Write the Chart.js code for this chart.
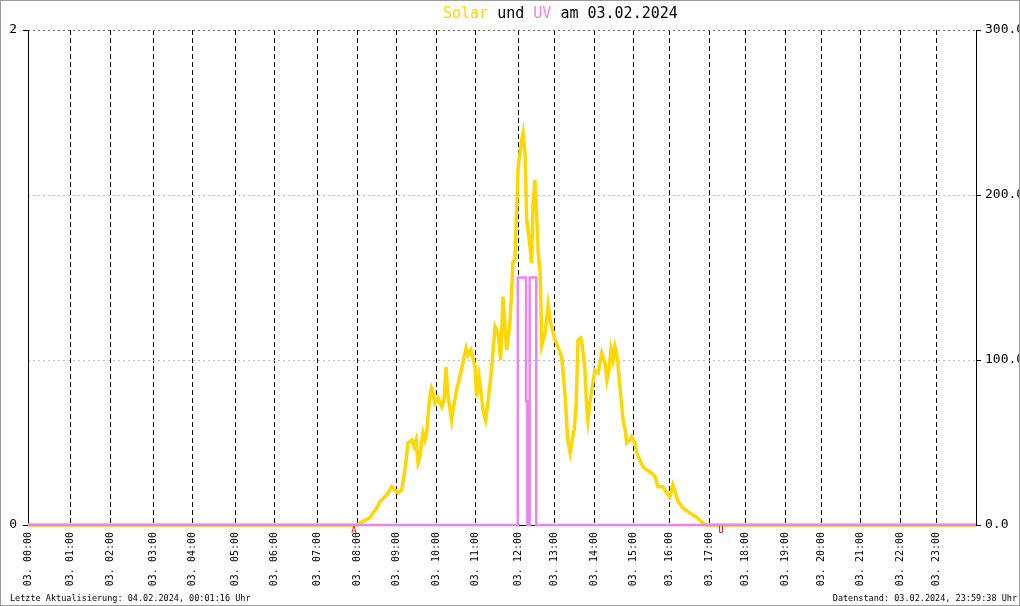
<!DOCTYPE html>
<html>
<head>
<meta charset="utf-8">
<script src="https://cdn.jsdelivr.net/npm/chart.js@4.4.1/dist/chart.umd.min.js"></script>
<style>
    html, body { margin: 0; padding: 0; background: #fff; }
    #wrap { position: relative; width: 1020px; height: 606px; overflow: hidden; font-family: 'DejaVu Sans Mono', monospace; color: #000; }
    #wrap canvas { position: absolute; left: 0; top: 0; }
    #frame { position: absolute; left: 0; top: 0; width: 1020px; height: 606px; box-sizing: border-box; border: 1px solid #9a9a9a; pointer-events: none; }
    #title { position: absolute; top: 4px; left: 443px; font-size: 15px; line-height: 18px; white-space: nowrap; }
    .foot { position: absolute; top: 593px; font-size: 8.5px; line-height: 11px; white-space: nowrap; }
</style>
</head>
<body>
<div id="wrap">
    <canvas id="chart" width="1020" height="606"></canvas>
    <div id="title"><span style="color:#ffd700">Solar</span> und <span style="color:#ee82ee">UV</span> am 03.02.2024</div>
    <div class="foot" style="left:10px">Letzte Aktualisierung: 04.02.2024, 00:01:16 Uhr</div>
    <div class="foot" style="right:3px">Datenstand: 03.02.2024, 23:59:38 Uhr</div>
    <div id="frame"></div>
</div>
<script>
// x runs over the sample index of the day (0..288); the hour labels sit on
// the sample where each hour starts, so they are not evenly spaced.
const dayEnd = 288;
const hourTicks = [0, 13, 25, 38, 50, 63, 75, 88, 100, 112, 124, 136, 149, 160, 172, 184, 195, 207, 218, 230, 241, 253, 265, 276];
const hourLabels = [
    '03. 00:00', '03. 01:00', '03. 02:00', '03. 03:00', '03. 04:00', '03. 05:00',
    '03. 06:00', '03. 07:00', '03. 08:00', '03. 09:00', '03. 10:00', '03. 11:00',
    '03. 12:00', '03. 13:00', '03. 14:00', '03. 15:00', '03. 16:00', '03. 17:00',
    '03. 18:00', '03. 19:00', '03. 20:00', '03. 21:00', '03. 22:00', '03. 23:00',
];
const uvTicks = [0, 2];
const solarTicks = [0, 100, 200, 300];

// [sample, W/m²]
const solar = [
    [0, 0], [100, 0], [100.9, 1.2], [102.4, 3.0], [103.9, 4.4], [104.8, 7.3], [105.9, 10.3],
    [106.9, 14.1], [108.5, 17.2], [109.4, 19.4], [110.5, 23.2], [111.5, 21.2], [112.4, 19.4],
    [113.5, 21.2], [113.9, 25.5], [114.5, 33.3], [115.0, 41.4], [115.4, 49.7], [116.6, 51.5],
    [117.3, 47.5], [117.9, 51.5], [118.5, 37.6], [119.1, 41.4], [119.6, 50.5], [120.0, 55.8],
    [120.6, 51.5], [121.2, 57.6], [121.5, 65.6], [122.1, 77.8], [122.6, 83.0], [123.0, 80.8],
    [123.6, 73.9], [124.6, 77.0], [125.7, 71.7], [126.4, 75.8], [127.0, 95.9], [127.6, 77.8],
    [128.7, 63.6], [129.1, 69.7], [130.2, 81.8], [131.2, 89.9], [132.2, 99.0], [133.1, 107.3],
    [133.7, 103.0], [134.5, 106.1], [135.2, 101.2], [135.8, 95.9], [136.3, 77.8], [137.0, 89.9],
    [137.8, 77.8], [138.2, 69.7], [139.0, 63.6], [139.7, 73.9], [140.9, 95.9], [141.9, 120.2],
    [142.8, 116.4], [143.6, 100.0], [144.3, 138.4], [145.4, 106.1], [146.4, 122.4], [146.9, 140.6],
    [147.3, 159.4], [147.9, 160.6], [148.9, 217.2], [150.0, 233.3], [150.4, 237.6], [151.0, 225.5],
    [151.5, 184.9], [151.9, 178.8], [152.5, 168.7], [153.0, 158.8], [153.4, 192.9], [154.0, 209.1],
    [154.5, 189.1], [155.0, 164.8], [155.6, 152.7], [156.1, 109.1], [157.1, 116.4], [158.0, 133.3],
    [158.6, 124.2], [160.1, 112.1], [161.0, 108.1], [162.1, 102.0], [162.5, 93.9], [163.1, 80.0],
    [163.6, 63.6], [164.0, 51.5], [164.7, 43.6], [165.2, 49.7], [165.9, 57.6], [166.5, 71.7],
    [167.1, 112.1], [167.9, 113.3], [168.3, 110.3], [169.2, 93.9], [169.7, 71.7], [170.1, 63.6],
    [170.7, 73.9], [171.6, 86.1], [172.2, 93.9], [173.2, 92.1], [174.3, 104.2], [175.3, 98.2],
    [175.9, 87.9], [176.5, 93.9], [177.1, 106.1], [177.7, 100.0], [178.3, 108.1], [178.8, 104.2],
    [179.2, 98.2], [179.8, 83.8], [180.4, 71.7], [180.8, 63.6], [181.4, 57.6], [181.9, 49.7],
    [182.9, 51.5], [183.4, 53.5], [184.4, 49.7], [184.9, 43.6], [185.9, 39.4], [186.8, 35.3],
    [188.0, 33.3], [189.5, 31.5], [190.5, 29.3], [191.4, 23.2], [192.9, 23.2], [194.0, 19.4],
    [195.0, 17.2], [195.9, 24.2], [196.6, 20.2], [197.5, 14.1], [199.0, 10.3], [200.5, 8.1],
    [202.0, 6.1], [203.5, 4.2], [205.0, 1.2], [206.2, 0], [288, 0],
];

// [sample, UV index]
const uv = [
    [0, 0], [148.8, 0], [148.8, 1], [151.3, 1], [151.3, 0.5], [151.7, 0.5], [151.7, 0],
    [152.4, 0], [152.4, 1], [154.4, 1], [154.4, 0], [288, 0],
];

// sunrise (Aufgang) and sunset (Untergang)
const sunMarks = [['A', 99], ['U', 210.5]];

const monoFont = "'DejaVu Sans Mono', monospace";

const sunMarkers = {
    id: 'sunMarkers',
    afterDraw(chart) {
        const { ctx, chartArea, scales: { x } } = chart;
        ctx.save();
        ctx.fillStyle = '#e00000';
        ctx.font = `9px ${monoFont}`;
        ctx.textAlign = 'center';
        ctx.textBaseline = 'middle';
        sunMarks.forEach(([mark, at]) => ctx.fillText(mark, x.getPixelForValue(at), chartArea.bottom + 6));
        ctx.restore();
    },
};

new Chart(document.getElementById('chart'), {
    type: 'line',
    data: {
        datasets: [
            // first dataset is painted last, so the UV line sits on top;
            // clip is widened so the zero line isn't cut in half at the axis
            { label: 'UV', data: uv, yAxisID: 'yUV', borderColor: '#ee82ee', borderWidth: 2.5, pointRadius: 0, tension: 0, clip: 4 },
            { label: 'Solar', data: solar, yAxisID: 'ySolar', borderColor: '#ffd700', borderWidth: 3.5, pointRadius: 0, tension: 0, clip: 4 },
        ],
    },
    options: {
        responsive: false,
        animation: false,
        events: [],
        layout: { padding: { top: 30, left: 0, right: 0, bottom: 0 } },
        plugins: { legend: { display: false }, tooltip: { enabled: false } },
        scales: {
            x: {
                type: 'linear',
                min: 0,
                max: dayEnd,
                afterBuildTicks: (scale) => { scale.ticks = hourTicks.map((value) => ({ value })); },
                afterFit: (scale) => { scale.height = 81; },
                ticks: {
                    autoSkip: false,
                    minRotation: 90,
                    maxRotation: 90,
                    padding: 7,
                    color: '#000',
                    font: { family: monoFont, size: 10 },
                    callback: (value, i) => hourLabels[i],
                },
                grid: { color: '#000', drawTicks: false },
                // in v4 the dash here is the one used for the grid lines
                border: { color: '#000', dash: [5, 3] },
            },
            yUV: {
                position: 'left',
                min: 0,
                max: 2,
                afterBuildTicks: (scale) => { scale.ticks = uvTicks.map((value) => ({ value })); },
                afterFit: (scale) => { scale.width = 28; },
                ticks: { padding: 6, color: '#000', font: { family: monoFont, size: 13 } },
                grid: { drawOnChartArea: false, tickLength: 5, tickColor: '#000' },
                border: { color: '#000' },
            },
            ySolar: {
                position: 'right',
                min: 0,
                max: 300,
                afterBuildTicks: (scale) => { scale.ticks = solarTicks.map((value) => ({ value })); },
                afterFit: (scale) => { scale.width = 44; },
                ticks: {
                    padding: 4,
                    color: '#000',
                    font: { family: monoFont, size: 13 },
                    callback: (value) => value.toFixed(1),
                },
                grid: {
                    color: (ctx) => (ctx.tick && ctx.tick.value === 300 ? '#666' : '#bbb'),
                    tickLength: 5,
                    tickColor: '#000',
                    tickBorderDash: [],
                },
                border: { color: '#000', dash: [2, 3] },
            },
        },
    },
    plugins: [sunMarkers],
});
</script>
</body>
</html>
